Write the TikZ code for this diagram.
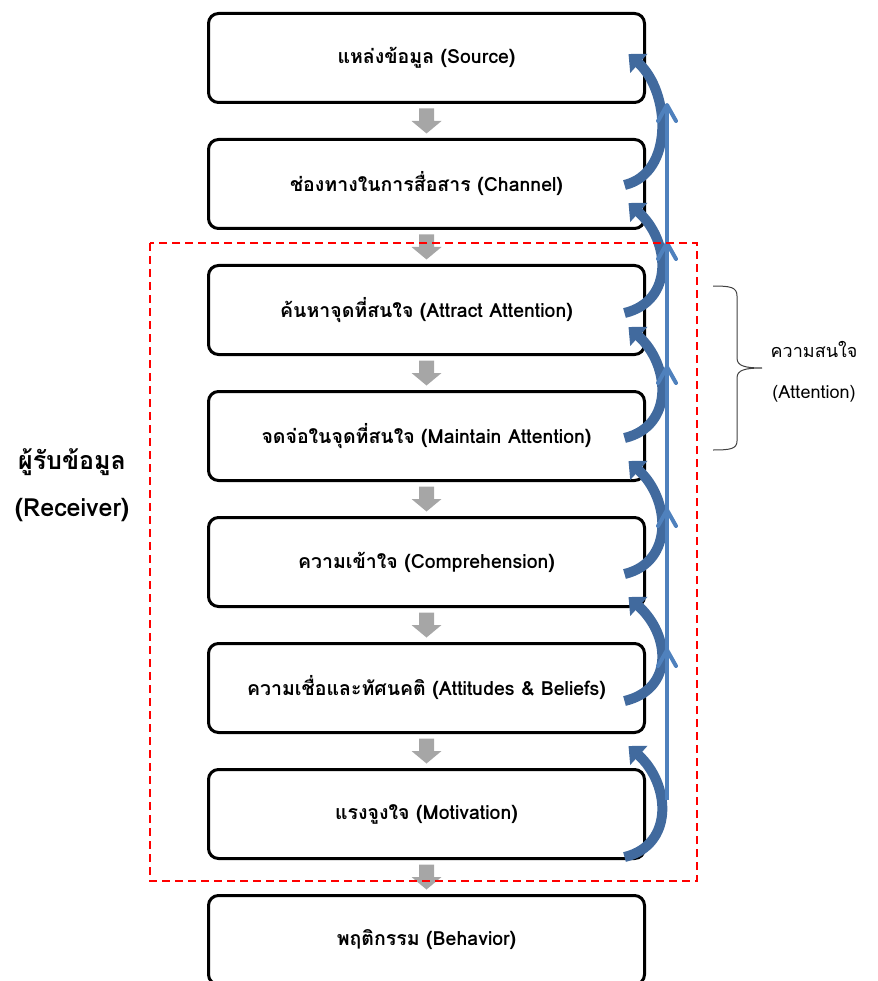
\documentclass[tikz,border=0pt]{standalone}
\usepackage{fontspec}
\setmainfont[Script=Thai]{Loma}
\usetikzlibrary{arrows.meta,calc,positioning}
\definecolor{arrowgray}{RGB}{166,166,166}
\definecolor{fbblue}{RGB}{65,106,158}
\definecolor{riseblue}{RGB}{79,129,189}
\tikzset{
  stage/.style={draw,line width=3pt,rounded corners=10pt,minimum width=436pt,
    minimum height=89pt,inner sep=0pt,outer sep=0pt,
    font=\bfseries\fontsize{19.5}{23}\selectfont},
  drop/.style={fill=arrowgray,draw=none},
  fb/.style={line width=10pt,draw=fbblue,-{Triangle[length=14pt,width=25pt]}},
  upline/.style={line width=4pt,draw=riseblue},
  barb/.style={line width=4pt,draw=riseblue,line join=round,line cap=round},
  recv/.style={draw=red,line width=2pt,dash pattern=on 8pt off 5pt},
  attbrace/.style={draw=black!75,line width=1pt},
  txt/.style={align=center}
}
\begin{document}
\begin{tikzpicture}[x=1pt,y=-1pt]
\useasboundingbox (0,0) rectangle (877,981);
% the eight stages
\node[stage] (s1) at (426.5,58) {แหล่งข้อมูล (Source)};
\node[stage,below=37pt of s1] (s2) {ช่องทางในการสื่อสาร (Channel)};
\node[stage,below=37pt of s2] (s3) {ค้นหาจุดที่สนใจ (Attract Attention)};
\node[stage,below=37pt of s3] (s4) {จดจ่อในจุดที่สนใจ (Maintain Attention)};
\node[stage,below=37pt of s4] (s5) {ความเข้าใจ (Comprehension)};
\node[stage,below=37pt of s5] (s6) {ความเชื่อและทัศนคติ (Attitudes \& Beliefs)};
\node[stage,below=37pt of s6] (s7) {แรงจูงใจ (Motivation)};
\node[stage,below=37pt of s7] (s8) {พฤติกรรม (Behavior)};
% gray block arrows between stages
\foreach \a/\b in {s1/s2,s2/s3,s3/s4,s4/s5,s5/s6,s6/s7,s7/s8}{
  \coordinate (m) at ($(\a.south)!0.5!(\b.north)$);
  \fill[drop] ($(m)+(-7.5,-12.5)$) -- ($(m)+(7.5,-12.5)$) -- ($(m)+(7.5,0)$)
    -- ($(m)+(15,0)$) -- ($(m)+(0,12.5)$) -- ($(m)+(-15,0)$) -- ($(m)+(-7.5,0)$) -- cycle;
}
% curved feedback arrows
\foreach \i/\a/\ta/\b/\hb in {1/s2/1/s1/-4,2/s3/3/s2/19,3/s4/2/s3/17,
    4/s5/12/s4/25,5/s6/13/s5/35,6/s7/43/s6/58}{
  \coordinate (t\i) at ($(\a.east)+(-20,\ta)$);
  \coordinate (h\i) at ($(\b.east)+(-16,\hb)$);
  \draw[fb] (t\i) .. controls ($(t\i)+(50,-12)$) and ($(h\i)+(42,38)$) .. (h\i);
}
% straight rising line, open heads along it
\coordinate (v0) at (667,800);
\coordinate (v1) at (667,650);
\coordinate (v2) at (667,510);
\coordinate (v3) at (667,367);
\coordinate (v4) at (667,243);
\coordinate (v5) at (667,105);
\draw[upline] (v0) -- (v5);
\foreach \j in {1,...,5}
  \draw[barb] ($(v\j)+(-9,16)$) -- (v\j) -- ($(v\j)+(9,16)$);
% receiver group
\draw[recv] (150,243) rectangle (697,881);
\node[txt,font=\bfseries\fontsize{25}{47}\selectfont] (rcv) at (72,485) {ผู้รับข้อมูล\\(Receiver)};
% attention brace
\draw[attbrace] (713,286) .. controls (730,286) and (737,287) .. (737,296) -- (737,358)
  .. controls (737,366) and (745,368) .. (762,368)
  .. controls (745,368) and (737,370) .. (737,378) -- (737,441)
  .. controls (737,449) and (730,450) .. (713,450);
\node[txt,font=\fontsize{18}{41}\selectfont] (att) at (814,372) {ความสนใจ\\(Attention)};
\end{tikzpicture}
\end{document}
